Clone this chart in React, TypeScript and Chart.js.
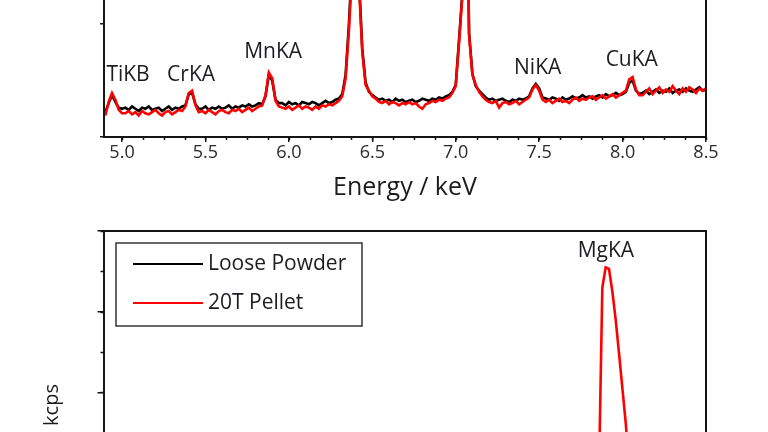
import React, { useEffect, useRef } from 'react';
import { Chart, registerables } from 'chart.js';

Chart.register(...registerables);

// ---------- Data ----------
const seriesNames = ['Loose Powder', '20T Pellet'];
const seriesColors = ['#000000', '#ff0000'];

// Upper panel: spectrum channels 4.90 .. 8.50 keV, 0.02 keV per channel
const ENERGY_START = 4.9;
const ENERGY_STEP = 0.02;

const loosePowderUpper = [
  0.22, 0.30, 0.37, 0.31, 0.26, 0.25,
  0.26, 0.24, 0.27, 0.25, 0.23, 0.26, 0.25, 0.27, 0.24, 0.25, 0.26, 0.23, 0.25, 0.27, 0.24, 0.26, 0.25, 0.27,
  0.28, 0.38, 0.39, 0.29, 0.25,
  0.25, 0.27, 0.24, 0.26, 0.25, 0.27, 0.25, 0.26, 0.28, 0.25, 0.27, 0.26, 0.28, 0.27, 0.29, 0.27, 0.28, 0.30,
  0.29, 0.36, 0.55, 0.50, 0.33, 0.30,
  0.30, 0.28, 0.31, 0.29, 0.30, 0.28, 0.31, 0.30, 0.29, 0.31, 0.30, 0.28, 0.30, 0.32, 0.30, 0.31, 0.33, 0.34,
  0.38, 0.55, 1.00, 1.60, 4.40, 1.40, 0.78, 0.48, 0.40, 0.37,
  0.35, 0.33, 0.34, 0.32, 0.33, 0.31, 0.34, 0.32, 0.33, 0.31, 0.32, 0.33, 0.31, 0.32, 0.34, 0.33, 0.32, 0.34, 0.33, 0.35, 0.34, 0.36, 0.37, 0.40,
  0.46, 0.86, 1.28, 3.10, 0.92, 0.56, 0.45, 0.41, 0.38,
  0.35, 0.33, 0.34, 0.32, 0.33, 0.34, 0.32, 0.31, 0.33, 0.32, 0.34, 0.33, 0.34,
  0.36, 0.43, 0.47, 0.43, 0.35,
  0.34, 0.33, 0.35, 0.34, 0.32, 0.35, 0.33, 0.34, 0.36, 0.34, 0.35, 0.37, 0.35, 0.36, 0.34, 0.36, 0.37, 0.35, 0.38, 0.36, 0.37, 0.39, 0.37, 0.38,
  0.40, 0.48, 0.50, 0.41, 0.38,
  0.39, 0.41, 0.38, 0.40, 0.42, 0.39, 0.41, 0.40, 0.43, 0.39, 0.41, 0.42, 0.40, 0.43, 0.41, 0.40, 0.42, 0.44, 0.41, 0.42,
];

const pelletUpper = [
  0.19, 0.31, 0.39, 0.33, 0.24, 0.21,
  0.21, 0.23, 0.20, 0.22, 0.19, 0.23, 0.21, 0.20, 0.22, 0.24, 0.21, 0.19, 0.22, 0.23, 0.20, 0.22, 0.24, 0.23,
  0.27, 0.39, 0.41, 0.28, 0.22,
  0.23, 0.21, 0.24, 0.22, 0.20, 0.23, 0.24, 0.22, 0.21, 0.24, 0.23, 0.25, 0.22, 0.24, 0.26, 0.23, 0.25, 0.27,
  0.28, 0.37, 0.57, 0.52, 0.32, 0.27,
  0.26, 0.25, 0.27, 0.24, 0.26, 0.28, 0.25, 0.27, 0.26, 0.24, 0.27, 0.25, 0.28, 0.27, 0.29, 0.28, 0.30, 0.32,
  0.36, 0.52, 0.95, 1.50, 4.50, 1.35, 0.75, 0.46, 0.41, 0.36,
  0.34, 0.31, 0.30, 0.32, 0.29, 0.31, 0.30, 0.28, 0.30, 0.29, 0.31, 0.29, 0.30, 0.27, 0.25, 0.29, 0.30, 0.32, 0.31, 0.33, 0.32, 0.34, 0.35, 0.39,
  0.45, 0.84, 1.25, 3.20, 0.90, 0.55, 0.46, 0.40, 0.36,
  0.33, 0.31, 0.30, 0.32, 0.26, 0.30, 0.31, 0.29, 0.30, 0.32, 0.29, 0.31, 0.33,
  0.35, 0.42, 0.46, 0.41, 0.33,
  0.31, 0.33, 0.30, 0.32, 0.34, 0.31, 0.32, 0.30, 0.33, 0.35, 0.32, 0.34, 0.33, 0.35, 0.36, 0.33, 0.35, 0.37, 0.34, 0.36, 0.38, 0.35, 0.37, 0.39,
  0.41, 0.51, 0.53, 0.42, 0.37,
  0.37, 0.40, 0.43, 0.38, 0.41, 0.44, 0.39, 0.42, 0.40, 0.45, 0.41, 0.38, 0.43, 0.40, 0.44, 0.42, 0.39, 0.43, 0.41, 0.43,
];

const upperPeakNames = ['TiKB', 'CrKA', 'MnKA', 'NiKA', 'CuKA'];
const upperPeakEnergies = [5.036, 5.414, 5.906, 7.491, 8.055];
const upperPeakLevels = [0.553, 0.553, 0.748, 0.61, 0.68];

// Lower panel
const lowerEnergies = [
  0.5, 0.55, 0.6, 0.65, 0.7, 0.75, 0.8, 0.85, 0.9, 0.95, 1.0, 1.02, 1.04, 1.06, 1.08, 1.1, 1.15, 1.2, 1.22,
  1.235, 1.24, 1.245, 1.25, 1.255, 1.26, 1.265, 1.27, 1.275, 1.28, 1.285, 1.29, 1.3, 1.32, 1.35, 1.4,
];
const loosePowderLower = [
  0.35, 0.28, 0.24, 0.21, 0.2, 0.19, 0.19, 0.21, 0.23, 0.27, 0.31, 0.38, 0.48, 0.38, 0.31, 0.29, 0.27, 0.28, 0.31,
  0.45, 0.7, 1.15, 1.3, 1.28, 1.15, 1.0, 0.85, 0.7, 0.55, 0.4, 0.33, 0.28, 0.24, 0.22, 0.26,
];
const pelletLower = [
  0.4, 0.3, 0.25, 0.22, 0.2, 0.2, 0.2, 0.22, 0.25, 0.3, 0.35, 0.45, 0.6, 0.45, 0.35, 0.32, 0.3, 0.3, 0.35,
  0.6, 1.0, 3.3, 3.55, 3.53, 3.25, 2.9, 2.48, 2.05, 1.62, 1.1, 0.7, 0.45, 0.3, 0.25, 0.3,
];
const lowerPeakNames = ['MgKA'];
const lowerPeakEnergies = [1.2504];
const lowerPeakLevels = [3.75];

// ---------- Plugins ----------
const INK = '#151515';
const FONT = "'Open Sans', sans-serif";

const framePlugin = {
  id: 'frame',
  afterDraw(chart: any, _args: any, o: any) {
    const { ctx, chartArea: a, scales } = chart;
    ctx.save();
    ctx.strokeStyle = INK;
    ctx.lineWidth = 1.5;
    const drawMinor = (scale: any, step: number, len: number, horizontal: boolean) => {
      if (!step) return;
      const n0 = Math.ceil(scale.min / step - 1e-9);
      const n1 = Math.floor(scale.max / step + 1e-9);
      for (let n = n0; n <= n1; n++) {
        const p = Math.round(scale.getPixelForValue(n * step)) + 0.5;
        ctx.beginPath();
        if (horizontal) {
          ctx.moveTo(p, a.bottom);
          ctx.lineTo(p, a.bottom + len);
        } else {
          ctx.moveTo(a.left, p);
          ctx.lineTo(a.left - len, p);
        }
        ctx.stroke();
      }
    };
    drawMinor(scales.x, o.xMinor, o.xMinorLen || 3, true);
    drawMinor(scales.y, o.yMinor, o.yMinorLen || 3, false);
    ctx.lineWidth = 2;
    ctx.strokeRect(a.left, a.top, a.right - a.left, a.bottom - a.top);
    ctx.restore();
  },
};

const peakLabelPlugin = {
  id: 'peakLabels',
  afterDatasetsDraw(chart: any, _args: any, o: any) {
    if (!o || !o.names) return;
    const { ctx, scales } = chart;
    ctx.save();
    ctx.font = `21px ${FONT}`;
    ctx.fillStyle = '#1c1c22';
    ctx.textAlign = 'center';
    ctx.textBaseline = 'middle';
    o.names.forEach((name: string, i: number) => {
      ctx.fillText(name, scales.x.getPixelForValue(o.energies[i]), scales.y.getPixelForValue(o.levels[i]));
    });
    ctx.restore();
  },
};

const boxLegendPlugin = {
  id: 'boxLegend',
  afterDraw(chart: any, _args: any, o: any) {
    if (!o || !o.show) return;
    const { ctx, chartArea: a } = chart;
    const x0 = a.left + 12;
    const y0 = a.top + 12;
    ctx.save();
    ctx.fillStyle = '#ffffff';
    ctx.fillRect(x0, y0, 246, 83);
    ctx.strokeStyle = '#333';
    ctx.lineWidth = 1.5;
    ctx.strokeRect(x0, y0, 246, 83);
    ctx.font = `21px ${FONT}`;
    ctx.textBaseline = 'middle';
    ctx.textAlign = 'left';
    chart.data.datasets.forEach((ds: any, i: number) => {
      const y = a.top + 33 + i * 39;
      ctx.strokeStyle = ds.borderColor;
      ctx.lineWidth = 2;
      ctx.beginPath();
      ctx.moveTo(a.left + 29, y);
      ctx.lineTo(a.left + 99, y);
      ctx.stroke();
      ctx.fillStyle = '#1c1c22';
      ctx.fillText(ds.label, a.left + 104, y);
    });
    ctx.restore();
  },
};

// ---------- Helpers ----------
function makeDatasets(xs: number[], series: number[][]) {
  return series.map((vals, k) => ({
    label: seriesNames[k],
    data: vals.map((v, i) => ({ x: xs[i], y: v })),
    borderColor: seriesColors[k],
    backgroundColor: seriesColors[k],
    borderWidth: 2.6,
    pointRadius: 0,
    tension: 0,
    order: k === 0 ? 2 : 1,
  }));
}

function axisCommon(tickLen: number) {
  return {
    grid: { drawOnChartArea: false, drawTicks: true, tickLength: tickLen, color: INK, lineWidth: 1.5 },
    border: { display: true, color: INK, width: 2 },
  };
}

const upperEnergies = loosePowderUpper.map((_, i) => Math.round((ENERGY_START + i * ENERGY_STEP) * 100) / 100);

export default function App() {
  const topRef = useRef<HTMLCanvasElement>(null);
  const botRef = useRef<HTMLCanvasElement>(null);

  useEffect(() => {
    Chart.defaults.font.family = FONT;
    const top = new Chart(topRef.current as HTMLCanvasElement, {
      type: 'line',
      data: { datasets: makeDatasets(upperEnergies, [loosePowderUpper, pelletUpper]) as any },
      options: {
        responsive: false,
        animation: false,
        layout: { padding: { left: 0, right: 62, top: 0, bottom: 0 } },
        plugins: {
          legend: { display: false },
          tooltip: { enabled: false },
          frame: { xMinor: 0.125, xMinorLen: 3 },
          peakLabels: { names: upperPeakNames, energies: upperPeakEnergies, levels: upperPeakLevels },
          boxLegend: { show: false },
        } as any,
        scales: {
          x: {
            type: 'linear',
            min: 4.892,
            max: 8.5,
            ...axisCommon(5),
            ticks: {
              stepSize: 0.5,
              includeBounds: false,
              padding: 0,
              color: '#2a2a2a',
              font: { size: 18 },
              maxRotation: 0,
              callback: (v: any) => Number(v).toFixed(1),
            },
            title: { display: true, text: 'Energy / keV', color: '#1c1c1c', font: { size: 25 }, padding: { top: 4, bottom: 4 } },
            afterFit: (s: any) => { s.height = 70; },
          },
          y: {
            type: 'linear',
            min: 0,
            max: 3.08,
            ...axisCommon(4),
            ticks: { stepSize: 1, display: false },
            title: { display: true, text: 'kcps', color: '#1c1c1c', font: { size: 20 }, padding: { top: 40, bottom: 4 } },
            afterFit: (s: any) => { s.width = 104; },
          },
        },
      } as any,
      plugins: [framePlugin, peakLabelPlugin, boxLegendPlugin],
    });

    const bot = new Chart(botRef.current as HTMLCanvasElement, {
      type: 'line',
      data: { datasets: makeDatasets(lowerEnergies, [loosePowderLower, pelletLower]) as any },
      options: {
        responsive: false,
        animation: false,
        layout: { padding: { left: 0, right: 62, top: 10, bottom: 0 } },
        plugins: {
          legend: { display: false },
          tooltip: { enabled: false },
          frame: { xMinor: 0.025, xMinorLen: 3, yMinor: 0.5, yMinorLen: 3.5 },
          peakLabels: { names: lowerPeakNames, energies: lowerPeakEnergies, levels: lowerPeakLevels },
          boxLegend: { show: true },
        } as any,
        scales: {
          x: {
            type: 'linear',
            min: 0.5,
            max: 1.4,
            ...axisCommon(5),
            ticks: {
              stepSize: 0.1,
              includeBounds: false,
              padding: 0,
              color: '#2a2a2a',
              font: { size: 18 },
              maxRotation: 0,
              callback: (v: any) => Number(v).toFixed(1),
            },
            title: { display: true, text: 'Energy / keV', color: '#1c1c1c', font: { size: 25 }, padding: { top: 4, bottom: 4 } },
            afterFit: (s: any) => { s.height = 62; },
          },
          y: {
            type: 'linear',
            min: -0.31,
            max: 4.0,
            ...axisCommon(6.5),
            ticks: { stepSize: 1, display: false },
            title: { display: true, text: 'kcps', color: '#1c1c1c', font: { size: 20 }, padding: { top: 40, bottom: 4 } },
            afterFit: (s: any) => { s.width = 104; },
          },
        },
      } as any,
      plugins: [framePlugin, peakLabelPlugin, boxLegendPlugin],
    });

    return () => {
      top.destroy();
      bot.destroy();
    };
  }, []);

  return (
    <div style={{ position: 'fixed', left: 0, top: 0, width: 768, height: 432, overflow: 'hidden', background: '#fff' }}>
      <canvas ref={topRef} width={768} height={418} style={{ position: 'absolute', left: 0, top: -211, width: 768, height: 418 }} />
      <canvas ref={botRef} width={768} height={420} style={{ position: 'absolute', left: 0, top: 221, width: 768, height: 420 }} />
    </div>
  );
}
